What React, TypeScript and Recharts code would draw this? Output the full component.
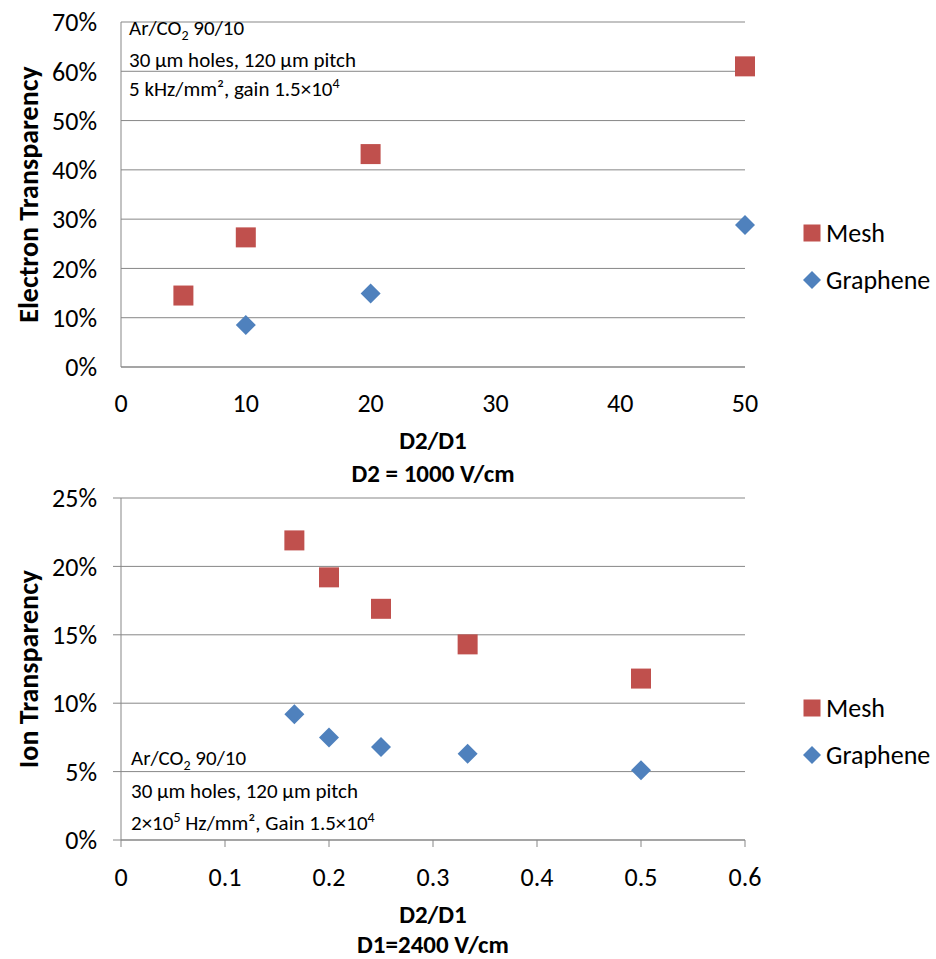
import React from 'react';
import { ScatterChart, Scatter, XAxis, YAxis, CartesianGrid, Label } from 'recharts';

// Electron transparency vs. field ratio (D2 = 1000 V/cm)
const electronMeshRatio = [5, 10, 20, 50];
const electronMeshValues = [14.5, 26.3, 43.2, 61.0];
const electronGrapheneRatio = [10, 20, 50];
const electronGrapheneValues = [8.5, 14.9, 28.8];
const electronXTicks = [0, 10, 20, 30, 40, 50];
const electronYTicks = [0, 10, 20, 30, 40, 50, 60, 70];

// Ion transparency vs. field ratio (D1 = 2400 V/cm)
const ionMeshRatio = [0.1667, 0.2, 0.25, 0.3333, 0.5];
const ionMeshValues = [21.9, 19.2, 16.9, 14.3, 11.8];
const ionGrapheneRatio = [0.1667, 0.2, 0.25, 0.3333, 0.5];
const ionGrapheneValues = [9.2, 7.5, 6.8, 6.3, 5.1];
const ionXTicks = [0, 0.1, 0.2, 0.3, 0.4, 0.5, 0.6];
const ionYTicks = [0, 5, 10, 15, 20, 25];

const seriesNames = ['Mesh', 'Graphene'];

const FONT = 'Carlito, Calibri, Lato, sans-serif';
const MESH_COLOR = '#C0504D';
const GRAPHENE_COLOR = '#4F81BD';
const GRID_COLOR = '#878787';

const toPoints = (xs: number[], ys: number[]) => xs.map((x, i) => ({ x, y: ys[i] }));

const SquareDot = (props: any) => {
  const { cx, cy } = props;
  if (cx == null || cy == null) return null;
  return <rect x={cx - 10} y={cy - 10} width={20} height={20} fill={MESH_COLOR} />;
};

const DiamondDot = (props: any) => {
  const { cx, cy } = props;
  if (cx == null || cy == null) return null;
  const r = 10;
  return (
    <polygon
      points={`${cx},${cy - r} ${cx + r},${cy} ${cx},${cy + r} ${cx - r},${cy}`}
      fill={GRAPHENE_COLOR}
    />
  );
};

// Vertical legend block placed to the right of each plot
const SeriesLegend = ({ left, top }: { left: number; top: number }) => (
  <div
    style={{
      position: 'absolute',
      left,
      top,
      fontFamily: FONT,
      fontSize: 26,
      color: '#000',
      lineHeight: 1,
    }}
  >
    {seriesNames.map((name, i) => (
      <div key={name} style={{ display: 'flex', alignItems: 'center', height: 47 }}>
        <svg width={24} height={24} style={{ flex: 'none' }}>
          {i === 0 ? (
            <rect x={3.5} y={3.5} width={17} height={17} fill={MESH_COLOR} />
          ) : (
            <polygon points="12,3 21,12 12,21 3,12" fill={GRAPHENE_COLOR} />
          )}
        </svg>
        <span style={{ marginLeft: 2 }}>{name}</span>
      </div>
    ))}
  </div>
);

const X_TITLE_SIZE = 25;
const Y_TITLE_SIZE = 28;

const makeXTitle = (lines: string[], offsets: number[]) => (props: any) => {
  const vb = props.viewBox || {};
  const cx = vb.x + vb.width / 2;
  return (
    <g>
      {lines.map((line, i) => (
        <text
          key={i}
          x={cx}
          y={vb.y + offsets[i]}
          textAnchor="middle"
          fontFamily={FONT}
          fontWeight="bold"
          fontSize={X_TITLE_SIZE}
          fill="#000"
        >
          {line}
        </text>
      ))}
    </g>
  );
};

const makeYTitle = (title: string) => (props: any) => {
  const vb = props.viewBox || {};
  const cy = vb.y + vb.height / 2;
  const x = 38;
  return (
    <text
      x={x}
      y={cy}
      transform={`rotate(-90, ${x}, ${cy})`}
      textAnchor="middle"
      fontFamily={FONT}
      fontWeight="bold"
      fontSize={Y_TITLE_SIZE}
      fill="#000"
    >
      {title}
    </text>
  );
};

const tickStyle = { fill: '#000', fontSize: 26, fontFamily: FONT };
const pct = (v: number) => `${v}%`;

const annoStyle: React.CSSProperties = { fontFamily: FONT, fontSize: 21, fill: '#000' };

export default function App() {
  return (
    <div style={{ position: 'absolute', left: 0, top: 0, width: 936, height: 959, background: '#fff', overflow: 'hidden' }}>
      <div style={{ position: 'absolute', left: 0, top: 480 }}>
        <ScatterChart width={936} height={479} margin={{ top: 18, right: 191, bottom: 0, left: 0 }}>
          <CartesianGrid horizontal vertical={false} stroke={GRID_COLOR} strokeWidth={1} />
          <XAxis
            type="number"
            dataKey="x"
            domain={[0, 0.6]}
            ticks={ionXTicks}
            interval={0}
            height={119}
            tickLine={{ stroke: GRID_COLOR }}
            tickSize={7}
            tickMargin={21}
            axisLine={{ stroke: GRID_COLOR }}
            tick={tickStyle}
          >
            <Label content={makeXTitle(['D2/D1', 'D1=2400 V/cm'], [83, 113])} />
          </XAxis>
          <YAxis
            type="number"
            dataKey="y"
            domain={[0, 25]}
            ticks={ionYTicks}
            interval={0}
            width={121}
            tickLine={{ stroke: GRID_COLOR }}
            tickSize={8}
            tickMargin={16}
            axisLine={{ stroke: GRID_COLOR }}
            tick={tickStyle}
            tickFormatter={pct}
          >
            <Label content={makeYTitle('Ion Transparency')} />
          </YAxis>
          <Scatter
            name={seriesNames[0]}
            data={toPoints(ionMeshRatio, ionMeshValues)}
            fill={MESH_COLOR}
            shape={SquareDot}
            isAnimationActive={false}
          />
          <Scatter
            name={seriesNames[1]}
            data={toPoints(ionGrapheneRatio, ionGrapheneValues)}
            fill={GRAPHENE_COLOR}
            shape={DiamondDot}
            isAnimationActive={false}
          />
        </ScatterChart>
      </div>

      <div style={{ position: 'absolute', left: 0, top: 0 }}>
        <ScatterChart width={936} height={492} margin={{ top: 22, right: 191, bottom: 12, left: 0 }}>
          <CartesianGrid horizontal vertical={false} stroke={GRID_COLOR} strokeWidth={1} />
          <XAxis
            type="number"
            dataKey="x"
            domain={[0, 50]}
            ticks={electronXTicks}
            interval={0}
            height={113}
            tickLine={false}
            tickSize={0}
            tickMargin={27}
            axisLine={{ stroke: GRID_COLOR }}
            tick={tickStyle}
          >
            <Label content={makeXTitle(['D2/D1', 'D2 = 1000 V/cm'], [82, 115])} />
          </XAxis>
          <YAxis
            type="number"
            dataKey="y"
            domain={[0, 70]}
            ticks={electronYTicks}
            interval={0}
            width={121}
            tickLine={false}
            tickSize={0}
            tickMargin={24}
            axisLine={{ stroke: GRID_COLOR }}
            tick={tickStyle}
            tickFormatter={pct}
          >
            <Label content={makeYTitle('Electron Transparency')} />
          </YAxis>
          <Scatter
            name={seriesNames[0]}
            data={toPoints(electronMeshRatio, electronMeshValues)}
            fill={MESH_COLOR}
            shape={SquareDot}
            isAnimationActive={false}
          />
          <Scatter
            name={seriesNames[1]}
            data={toPoints(electronGrapheneRatio, electronGrapheneValues)}
            fill={GRAPHENE_COLOR}
            shape={DiamondDot}
            isAnimationActive={false}
          />
        </ScatterChart>
      </div>

      <SeriesLegend left={800} top={209.5} />
      <SeriesLegend left={800} top={684.5} />

      <svg
        width={936}
        height={959}
        style={{ position: 'absolute', left: 0, top: 0, pointerEvents: 'none' }}
      >
        <text x={129} y={35} style={annoStyle}>
          Ar/CO<tspan fontSize={14} dy={5}>2</tspan>
          <tspan dy={-5}> 90/10</tspan>
        </text>
        <text x={129} y={67} style={annoStyle}>30 µm holes, 120 µm pitch</text>
        <text x={129} y={96} style={annoStyle}>
          5 kHz/mm², gain 1.5×10<tspan fontSize={14} dy={-8}>4</tspan>
        </text>

        <text x={131} y={765} style={annoStyle}>
          Ar/CO<tspan fontSize={14} dy={5}>2</tspan>
          <tspan dy={-5}> 90/10</tspan>
        </text>
        <text x={131} y={798} style={annoStyle}>30 µm holes, 120 µm pitch</text>
        <text x={131} y={830} style={annoStyle}>
          2×10<tspan fontSize={14} dy={-8}>5</tspan>
          <tspan dy={8}> Hz/mm², Gain 1.5×10</tspan>
          <tspan fontSize={14} dy={-8}>4</tspan>
        </text>
      </svg>
    </div>
  );
}
